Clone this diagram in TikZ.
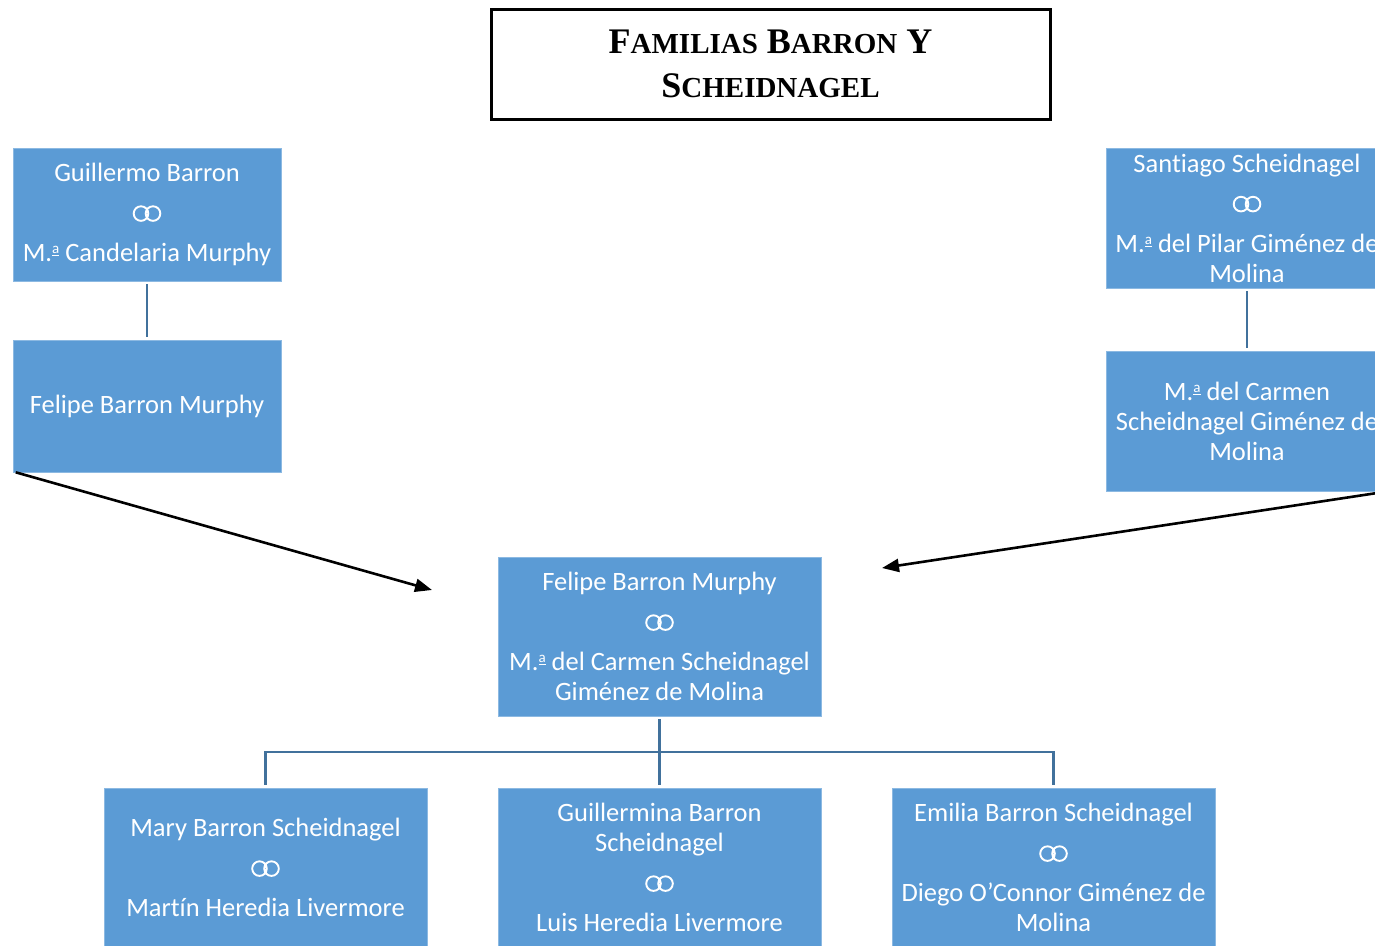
\documentclass[tikz,border=0pt]{standalone}
\usepackage{fontspec}
\setmainfont[Ligatures=NoCommon]{Carlito}
\newfontfamily\titlefont{Liberation Serif}
\usetikzlibrary{arrows.meta}
\definecolor{boxblue}{HTML}{5B9BD5}
\definecolor{linkblue}{HTML}{41719C}
% marriage sign, two rings
\newcommand\wed{\tikz[baseline={(0pt,-8pt)}]{\draw[white, line width=1.9pt] (0pt,0pt) circle (7.3pt) (12pt,0pt) circle (7.3pt);}}
% feminine ordinal with its bar
\newcommand\mao{\raisebox{0.62ex}{\fontsize{15}{15}\selectfont\underline{a}}}
% small capitals of the title
\newcommand\sck[1]{{\fontsize{29}{29}\selectfont #1}}
\tikzset{
	famcouple/.style={rectangle, fill=boxblue, draw=boxblue!70!white, line width=0.6pt, text=white, align=center, inner sep=0pt},
	famlink/.style={linkblue, line width=2.2pt},
	famarrow/.style={black, line width=2.6pt, -{Triangle[length=17pt, width=13pt]}}
}
\begin{document}
\begin{tikzpicture}[x=1pt, y=-1pt, font=\fontsize{26.5}{30}\selectfont]
		\path[use as bounding box, clip] (0, 0) rectangle (1375, 945);
		% title
		\node[draw, line width=3pt, minimum width=559, minimum height=110, align=center, font=\titlefont\bfseries\fontsize{36}{44}\selectfont] (title) at (770.5, 64)
			{F\sck{AMILIAS} B\sck{ARRON} Y\\S\sck{CHEIDNAGEL}};
		% Barron side
		\node[famcouple, minimum width=268, minimum height=133] (guillermo) at (147, 214.5)
			{Guillermo Barron\\[10pt]\wed\\[10pt]M.\mao{} Candelaria Murphy};
		\node[famcouple, minimum width=268, minimum height=132] (felipe) at (147, 406)
			{Felipe Barron Murphy};
		% Scheidnagel side
		\node[famcouple, minimum width=282, minimum height=140] (santiago) at (1247, 218)
			{Santiago Scheidnagel\\[10pt]\wed\\[10pt]M.\mao{} del Pilar Giménez de\\Molina};
		\node[famcouple, minimum width=282, minimum height=140] (carmen) at (1247, 421)
			{M.\mao{} del Carmen\\Scheidnagel Giménez de\\Molina};
		% the couple
		\node[famcouple, minimum width=323, minimum height=159] (couple) at (659.5, 636.5)
			{Felipe Barron Murphy\\[10pt]\wed\\[10pt]M.\mao{} del Carmen Scheidnagel\\Giménez de Molina};
		% children
		\node[famcouple, minimum width=323, minimum height=159] (mary) at (265.5, 867.5)
			{Mary Barron Scheidnagel\\[10pt]\wed\\[10pt]Martín Heredia Livermore};
		\node[famcouple, minimum width=323, minimum height=159] (guillermina) at (659.5, 867.5)
			{Guillermina Barron\\Scheidnagel\\[10pt]\wed\\[10pt]Luis Heredia Livermore};
		\node[famcouple, minimum width=323, minimum height=159] (emilia) at (1053.5, 867.5)
			{Emilia Barron Scheidnagel\\[10pt]\wed\\[10pt]Diego O’Connor Giménez de\\Molina};
		% parent lines
		\draw[famlink, shorten <=3pt, shorten >=3pt] (guillermo) -- (felipe);
		\draw[famlink, shorten <=3pt, shorten >=3pt] (santiago) -- (carmen);
		% arrows into the couple
		\coordinate (inleft) at (432, 590);
		\coordinate (inright) at (882, 568);
		\draw[famarrow] ([xshift=3pt]felipe.south west) -- (inleft);
		\draw[famarrow] (carmen.south east) -- (inright);
		% tree of the children
		\coordinate (fork) at (659.5, 752);
		\draw[famlink, shorten <=3pt] (couple) -- (fork);
		\draw[famlink, shorten >=3pt] (fork) -| (mary);
		\draw[famlink, shorten >=3pt] (fork) -- (guillermina);
		\draw[famlink, shorten >=3pt] (fork) -| (emilia);
	\end{tikzpicture}
\end{document}
